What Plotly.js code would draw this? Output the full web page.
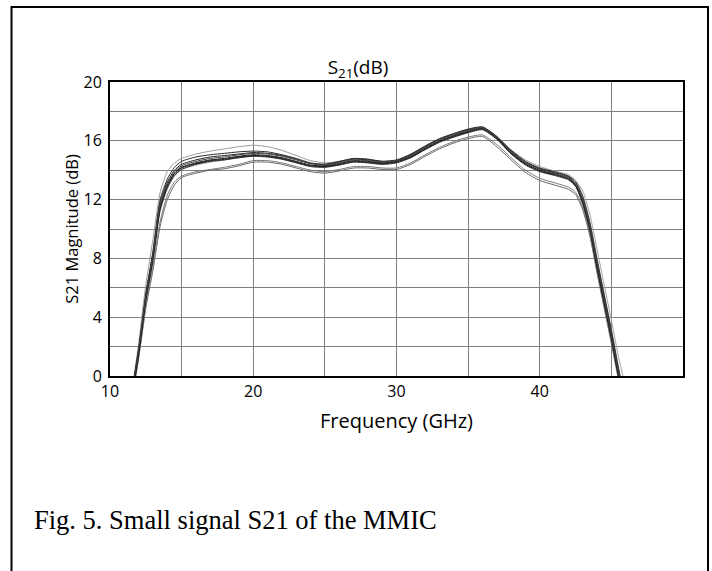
<!DOCTYPE html>
<html>
<head>
<meta charset="utf-8">
<script src="https://cdn.plot.ly/plotly-3.0.1.min.js"></script>
<style>
  html, body { margin: 0; padding: 0; background: #fff; }
  #chart { width: 712px; height: 571px; }
</style>
</head>
<body>
<div id="chart"></div>
<script>
// Frequency points (GHz)
const freqGHz = [11.6, 12, 12.5, 13, 13.5, 14, 14.5, 15, 16, 17, 18, 19, 20, 21, 22, 23, 24, 25, 26, 27, 28, 29, 30, 31, 32, 33, 34, 35, 36, 37, 38, 39, 40, 41, 42, 42.5, 43, 43.5, 44, 44.5, 45, 45.5, 45.9];

const chipA = [-0.8, 1.6, 5.3, 8.1, 11.5, 13.0, 13.8, 14.2, 14.5, 14.7, 14.8, 14.95, 15.05, 15.0, 14.85, 14.6, 14.35, 14.3, 14.45, 14.65, 14.6, 14.5, 14.6, 14.95, 15.5, 16.0, 16.35, 16.65, 16.85, 16.2, 15.2, 14.45, 14.0, 13.75, 13.45, 13.0, 11.9, 10.1, 7.5, 5.1, 2.7, 0.1, -1.8];
const chipB = [-0.6, 1.9, 5.6, 8.4, 11.8, 13.2, 14.0, 14.4, 14.7, 14.9, 15.0, 15.1, 15.2, 15.15, 15.0, 14.75, 14.45, 14.4, 14.55, 14.75, 14.7, 14.6, 14.7, 15.1, 15.65, 16.15, 16.5, 16.8, 16.95, 16.3, 15.3, 14.55, 14.1, 13.85, 13.55, 13.1, 12.0, 10.2, 7.7, 5.3, 2.9, 0.3, -1.6];
const chipC = [-1.0, 1.4, 5.1, 7.9, 11.3, 12.8, 13.65, 14.05, 14.4, 14.6, 14.7, 14.85, 14.95, 14.9, 14.75, 14.5, 14.25, 14.2, 14.35, 14.55, 14.5, 14.4, 14.5, 14.85, 15.4, 15.9, 16.25, 16.55, 16.75, 16.1, 15.1, 14.35, 13.9, 13.65, 13.35, 12.9, 11.7, 9.9, 7.3, 4.9, 2.5, -0.1, -2.0];
const chipD = [-0.7, 1.7, 5.5, 8.5, 12.0, 13.4, 14.2, 14.6, 14.9, 15.05, 15.15, 15.25, 15.3, 15.25, 15.05, 14.8, 14.5, 14.4, 14.6, 14.8, 14.75, 14.6, 14.65, 15.05, 15.6, 16.1, 16.45, 16.75, 16.9, 16.25, 15.35, 14.6, 14.15, 13.9, 13.6, 13.2, 12.2, 10.4, 7.9, 5.5, 3.1, 0.5, -1.4];
const chipE = [-0.9, 1.5, 5.2, 8.0, 11.4, 12.9, 13.75, 14.15, 14.45, 14.65, 14.75, 14.9, 15.0, 14.95, 14.8, 14.55, 14.3, 14.25, 14.4, 14.6, 14.55, 14.45, 14.55, 14.9, 15.45, 15.95, 16.3, 16.6, 16.8, 16.15, 15.15, 14.4, 13.95, 13.7, 13.4, 12.95, 11.8, 10.0, 7.4, 5.0, 2.6, 0.0, -1.9];
const chipF = [-0.7, 1.8, 5.4, 8.2, 11.6, 13.1, 13.9, 14.3, 14.6, 14.8, 14.9, 15.05, 15.15, 15.1, 14.95, 14.7, 14.45, 14.35, 14.5, 14.7, 14.65, 14.55, 14.65, 15.0, 15.55, 16.05, 16.4, 16.7, 16.9, 16.25, 15.25, 14.5, 14.05, 13.8, 13.5, 13.05, 11.95, 10.2, 7.6, 5.2, 2.8, 0.2, -1.7];
const chipG = [-1.2, 1.2, 4.6, 7.2, 10.2, 12.0, 13.0, 13.5, 13.8, 14.0, 14.1, 14.3, 14.55, 14.55, 14.4, 14.15, 13.9, 13.8, 13.95, 14.15, 14.15, 14.05, 14.05, 14.4, 14.95, 15.45, 15.85, 16.15, 16.3, 15.6, 14.7, 13.85, 13.3, 13.0, 12.7, 12.35, 11.3, 9.5, 7.0, 4.6, 2.2, -0.3, -2.2];
const chipH = [-1.1, 1.3, 4.8, 7.5, 10.5, 12.3, 13.2, 13.6, 13.9, 14.05, 14.2, 14.4, 14.65, 14.65, 14.5, 14.25, 14.0, 13.9, 14.05, 14.25, 14.25, 14.15, 14.15, 14.5, 15.05, 15.55, 15.95, 16.25, 16.4, 15.75, 14.85, 14.0, 13.45, 13.15, 12.85, 12.5, 11.5, 9.7, 7.2, 4.8, 2.4, -0.1, -2.0];
const chipI = [-0.5, 2.2, 6.2, 9.3, 12.5, 13.9, 14.5, 14.8, 15.1, 15.3, 15.45, 15.6, 15.7, 15.6, 15.35, 15.0, 14.65, 14.5, 14.6, 14.8, 14.75, 14.6, 14.65, 15.05, 15.6, 16.1, 16.45, 16.75, 16.9, 16.3, 15.4, 14.7, 14.25, 13.95, 13.7, 13.3, 12.3, 10.5, 8.0, 5.6, 3.2, 0.6, -1.3];
const chipJ = [-0.9, 1.5, 5.1, 7.8, 11.2, 12.7, 13.6, 14.05, 14.35, 14.55, 14.7, 14.85, 14.95, 14.9, 14.75, 14.5, 14.25, 14.2, 14.35, 14.55, 14.5, 14.4, 14.5, 14.85, 15.4, 15.9, 16.25, 16.6, 16.8, 16.2, 15.3, 14.55, 14.1, 13.85, 13.6, 13.3, 12.6, 11.0, 8.6, 6.2, 3.8, 1.3, -0.4];

const xTickVals = [10, 20, 30, 40];
const yTickVals = [0, 4, 8, 12, 16, 20];

const chips = [
  {y: chipG, c: '#666666'},
  {y: chipH, c: '#777777'},
  {y: chipI, c: '#9a9a9a'},
  {y: chipJ, c: '#a5a5a5'},
  {y: chipA, c: '#111111'},
  {y: chipB, c: '#222222'},
  {y: chipC, c: '#333333'},
  {y: chipD, c: '#2a2a2a'},
  {y: chipE, c: '#1a1a1a'},
  {y: chipF, c: '#444444'}
];

const traces = chips.map(ch => ({
  x: freqGHz, y: ch.y, type: 'scatter', mode: 'lines',
  line: {color: ch.c, width: 1, shape: 'spline', smoothing: 0.6},
  hoverinfo: 'skip', showlegend: false
}));

const font = 'Open Sans, Lato, DejaVu Sans, sans-serif';
const L = 110, R = 683, T = 82, B = 376, W = 712, H = 571;
const px = v => (v - L) / (R - L);
const py = v => (B - v) / (B - T);

const layout = {
  width: W, height: H,
  margin: {l: L, r: W - R, t: T, b: H - B, pad: 0},
  paper_bgcolor: '#ffffff', plot_bgcolor: '#ffffff',
  showlegend: false,
  font: {family: font, color: '#000', size: 16},
  title: {text: 'S<sub>21</sub>(dB)', font: {family: font, size: 19, color: '#000'},
          x: 358 / W, xanchor: 'center', xref: 'container',
          y: 1 - 67 / H, yanchor: 'middle', yref: 'container'},
  xaxis: {
    range: [10, 50], tickvals: xTickVals, ticktext: xTickVals.map(String),
    showgrid: true, gridcolor: '#808080', gridwidth: 1,
    minor: {tick0: 10, dtick: 5, showgrid: true, gridcolor: '#808080', gridwidth: 1},
    showline: true, linecolor: '#000', linewidth: 2, mirror: true,
    ticks: '', zeroline: false, tickfont: {family: font, size: 16, color: '#000'},
    title: {text: 'Frequency (GHz)', font: {family: font, size: 20, color: '#000'}, standoff: 13},
    automargin: false, fixedrange: true
  },
  yaxis: {
    range: [0, 20], tickvals: yTickVals, ticktext: yTickVals.map(String),
    showgrid: true, gridcolor: '#808080', gridwidth: 1,
    minor: {tick0: 0, dtick: 2, showgrid: true, gridcolor: '#808080', gridwidth: 1},
    showline: true, linecolor: '#000', linewidth: 2, mirror: true,
    ticks: '', ticklabelstandoff: 3, zeroline: false, tickfont: {family: font, size: 16, color: '#000'},
    title: {text: 'S21 Magnitude (dB)', font: {family: font, size: 16.5, color: '#000'}, standoff: 1},
    automargin: false, fixedrange: true
  },
  shapes: [
    {type: 'rect', xref: 'paper', yref: 'paper',
     x0: px(11.5), x1: px(708), y0: py(7), y1: py(620),
     line: {color: '#000', width: 2}, fillcolor: 'rgba(0,0,0,0)', layer: 'above'}
  ],
  annotations: [
    {text: 'Fig. 5. Small signal S21 of the MMIC', xref: 'paper', yref: 'paper',
     x: px(32), xanchor: 'left', y: py(520), yanchor: 'middle', showarrow: false,
     font: {family: 'Liberation Serif, Times New Roman, serif', size: 26.5, color: '#000'}}
  ]
};

Plotly.newPlot('chart', traces, layout, {displayModeBar: false, staticPlot: true});
</script>
</body>
</html>
